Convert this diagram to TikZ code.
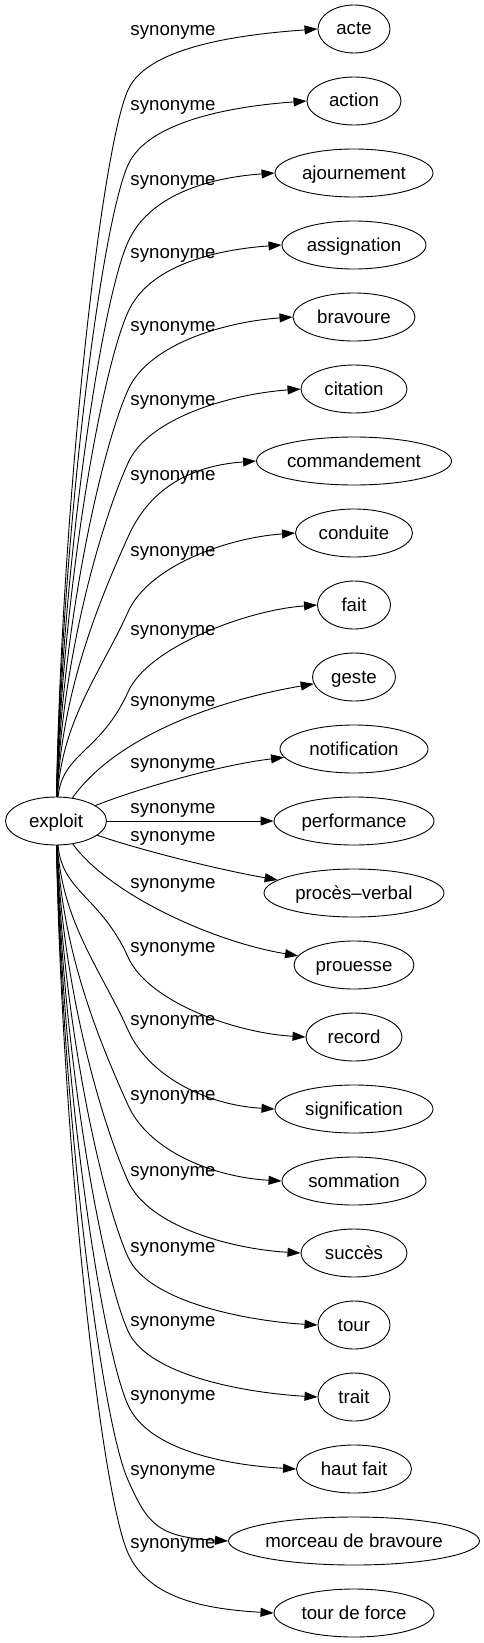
\documentclass[tikz,border=0pt]{standalone}
\usepackage{fontspec}
\setmainfont{Liberation Sans}
\usetikzlibrary{shapes.geometric,arrows.meta,calc}
\tikzset{
  word/.style={draw, ellipse, line width=0.9pt, minimum height=48pt, inner sep=0pt,
    font=\fontsize{18.67}{22}\selectfont, text height=15pt, text depth=3pt},
  rel/.style={inner sep=0pt, font=\fontsize{18.67}{22}\selectfont,
    text height=10pt, text depth=4pt},
  edge/.style={line width=0.9pt, -{Triangle[length=13pt,width=9pt]}}
}
\begin{document}
\begin{tikzpicture}[x=1pt,y=-1pt]
\useasboundingbox (0,0) rectangle (483,1643);
% the word
\node[word, minimum width=101pt] (exploit) at (56,821) {exploit};
% its synonyms
\foreach \n/\txt/\w/\y in {acte/acte/72/29, action/action/94/101,
    ajournement/ajournement/158/173, assignation/assignation/144/245,
    bravoure/bravoure/122/317, citation/citation/106/389,
    commandement/commandement/195/461, conduite/conduite/117/533,
    fait/fait/73/605, geste/geste/83/677, notification/notification/148/749,
    performance/performance/160/821, procesverbal/procès–verbal/180/893,
    prouesse/prouesse/120/965, record/record/96/1037,
    signification/signification/158/1109, sommation/sommation/144/1181,
    succes/succès/106/1253, tour/tour/72/1325, trait/trait/72/1397,
    hautfait/haut fait/115/1469, morceau/morceau de bravoure/246/1541,
    tourdeforce/tour de force/160/1613}
  \node[word, minimum width=\w pt] (\n) at (354,\y) {\txt};

% edges going up
\foreach \t/\k/\l in {acte/90/33, action/165/108, ajournement/242/182,
    assignation/312/255, bravoure/390/328, citation/463/402,
    commandement/537/477, conduite/612/553, fait/692/632}{
  \node[rel] (l\t) at (173,\l) {synonyme};
  \draw[edge] (exploit) .. controls (62,{798-0.42*(798-\k)}) and (101,\k+60) .. (128,\k)
    .. controls (148,\k-45) and ($(\t.west)+(-70,5)$) .. (\t.west);
}

% edges near the middle
\node[rel] (lgeste) at (173,703) {synonyme};
\draw[edge] (exploit) .. controls (115,738) and (213,701) .. (geste);
\node[rel] (lnotification) at (173,765) {synonyme};
\draw[edge] (exploit) .. controls (140,788) and (220,765) .. (notification);
\node[rel] (lperformance) at (173,810) {synonyme};
\draw[edge] (exploit) -- (performance);
\node[rel] (lprocesverbal) at (173,838) {synonyme};
\draw[edge] (exploit) .. controls (140,850) and (220,870) .. (procesverbal);
\node[rel] (lprouesse) at (173,885) {synonyme};
\draw[edge] (exploit) .. controls (110,895) and (214,942) .. (prouesse);

% edges going down
\foreach \t/\k/\l in {record/957/949, signification/1030/1022,
    sommation/1105/1097, succes/1181/1173, tour/1257/1249, trait/1331/1323,
    hautfait/1405/1397, morceau/1480/1472, tourdeforce/1553/1545}{
  \node[rel] (l\t) at (173,\l) {synonyme};
  \draw[edge] (exploit) .. controls (62,{844+0.42*(\k-844)}) and (101,\k-60) .. (128,\k)
    .. controls (148,\k+45) and ($(\t.west)+(-70,-4)$) .. (\t.west);
}
\end{tikzpicture}
\end{document}
